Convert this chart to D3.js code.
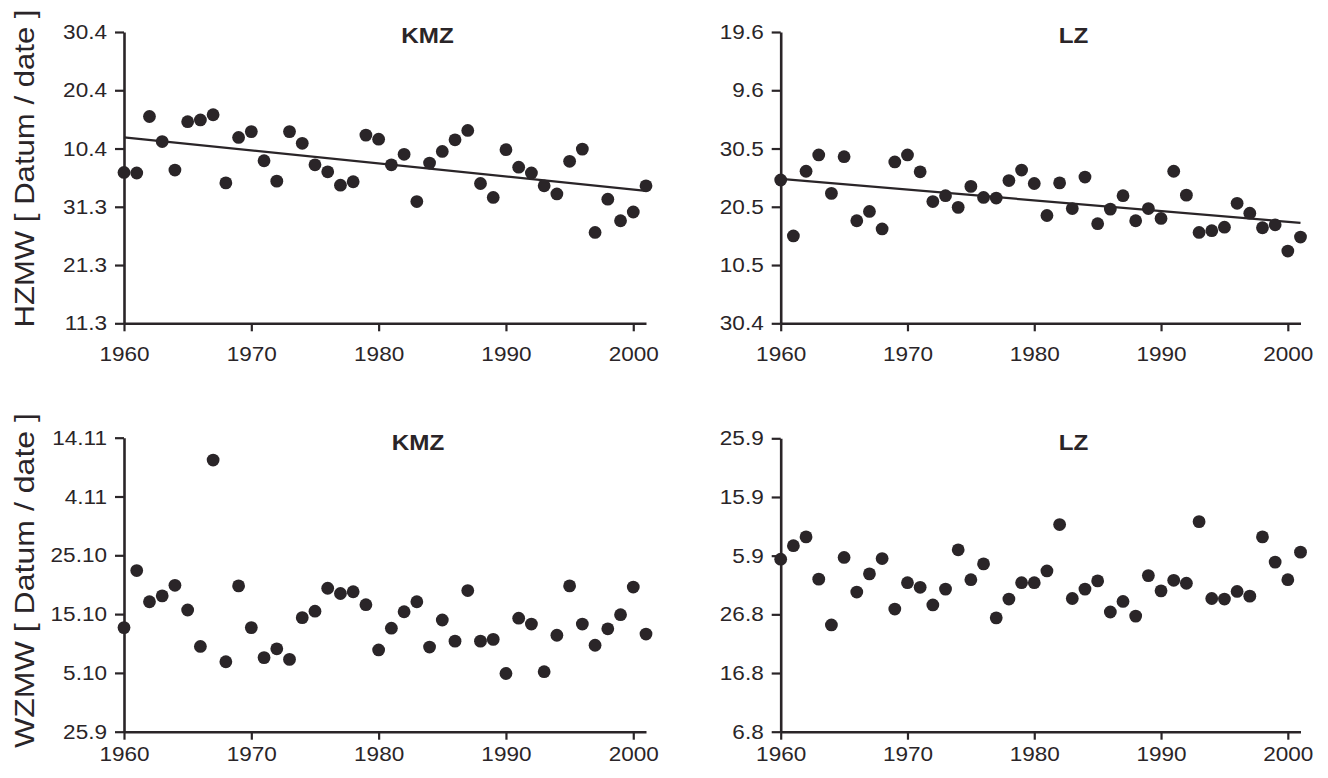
<!DOCTYPE html>
<html>
<head>
<meta charset="utf-8">
<script src="https://cdn.jsdelivr.net/npm/d3@7"></script>
<style>
  html, body { margin: 0; padding: 0; background: #ffffff; }
  svg { display: block; }
</style>
</head>
<body>
<svg id="chart" width="1328" height="778"></svg>
<script>
// ---------------- DATA ----------------
const years = d3.range(1960, 2002);
const xTickYears = [1960, 1970, 1980, 1990, 2000];

// y-axis tick labels (dates, day.month), bottom to top, 10 days apart
const hzmwKmzTicks = ["11.3", "21.3", "31.3", "10.4", "20.4", "30.4"];
const hzmwLzTicks  = ["30.4", "10.5", "20.5", "30.5", "9.6", "19.6"];
const wzmwKmzTicks = ["25.9", "5.10", "15.10", "25.10", "4.11", "14.11"];
const wzmwLzTicks  = ["6.8", "16.8", "26.8", "5.9", "15.9", "25.9"];
const tickDays = [0, 10, 20, 30, 40, 50];

// values: days after the lowest tick date, one per year 1960..2001
const hzmwKmz = [25.9, 25.8, 35.5, 31.2, 26.3, 34.6, 34.9, 35.8, 24.1, 31.9,
                 32.9, 27.9, 24.4, 32.9, 30.9, 27.2, 26.0, 23.7, 24.3, 32.3,
                 31.6, 27.2, 29.0, 20.9, 27.5, 29.5, 31.5, 33.1, 24.0, 21.6,
                 29.8, 26.8, 25.8, 23.6, 22.2, 27.8, 29.9, 15.6, 21.3, 17.6,
                 19.1, 23.6];
const hzmwLz  = [24.6, 15.0, 26.1, 28.9, 22.3, 28.6, 17.6, 19.2, 16.2, 27.7,
                 28.9, 26.0, 20.9, 21.9, 19.9, 23.5, 21.6, 21.5, 24.5, 26.3,
                 24.0, 18.5, 24.1, 19.7, 25.1, 17.1, 19.6, 21.9, 17.6, 19.7,
                 18.0, 26.1, 22.0, 15.6, 15.9, 16.5, 20.6, 18.9, 16.4, 16.9,
                 12.4, 14.8];
const wzmwKmz = [17.7, 27.4, 22.1, 23.1, 24.9, 20.7, 14.5, 46.2, 11.9, 24.8,
                 17.7, 12.6, 14.1, 12.3, 19.4, 20.5, 24.4, 23.5, 23.8, 21.6,
                 13.9, 17.6, 20.4, 22.1, 14.4, 19.0, 15.4, 24.0, 15.4, 15.7,
                  9.9, 19.3, 18.3, 10.2, 16.4, 24.8, 18.3, 14.7, 17.5, 19.9,
                 24.6, 16.6];
const wzmwLz  = [29.4, 31.7, 33.2, 26.0, 18.2, 29.7, 23.8, 26.9, 29.5, 20.9,
                 25.4, 24.6, 21.6, 24.3, 31.0, 25.9, 28.6, 19.4, 22.6, 25.4,
                 25.4, 27.4, 35.3, 22.7, 24.3, 25.7, 20.4, 22.2, 19.7, 26.6,
                 24.0, 25.8, 25.3, 35.8, 22.7, 22.6, 23.9, 23.1, 33.2, 28.9,
                 25.9, 30.6];

const titles = ["KMZ", "LZ", "KMZ", "LZ"];
const rowTitles = ["HZMW [ Datum / date ]", "WZMW  [ Datum / date ]"];

// ---------------- LAYOUT ----------------
const ink = "#2a2528";
const font = "'Liberation Sans', Arial, Helvetica, sans-serif";
const stretch = 1.1;
const svg = d3.select("#chart");

function widen(sel) {
  sel.each(function () {
    const len = this.getComputedTextLength();
    d3.select(this).attr("textLength", len * stretch).attr("lengthAdjust", "spacingAndGlyphs");
  });
}

const panels = [
  { values: hzmwKmz, ticks: hzmwKmzTicks, title: titles[0], trend: true,
    x0: 124, x1: 646, y0: 32, y1: 323.3, labelGap: 15 },
  { values: hzmwLz,  ticks: hzmwLzTicks,  title: titles[1], trend: true,
    x0: 780.7, x1: 1300.5, y0: 32, y1: 323.3, labelGap: 15 },
  { values: wzmwKmz, ticks: wzmwKmzTicks, title: titles[2], trend: false,
    x0: 124, x1: 646, y0: 437.7, y1: 731.7, labelGap: 7 },
  { values: wzmwLz,  ticks: wzmwLzTicks,  title: titles[3], trend: false,
    x0: 780.7, x1: 1300.5, y0: 438.3, y1: 731.7, labelGap: 7 }
];
const titleX = [427.5, 1073.5, 418, 1073.5];
const titleY = [43, 43, 450, 450];

panels.forEach((p, i) => {
  const x = d3.scaleLinear().domain([1960, 2001]).range([p.x0, p.x1]);
  const y = d3.scaleLinear().domain([0, 50]).range([p.y1, p.y0]);
  const g = svg.append("g");

  const ya = g.append("g")
    .attr("transform", `translate(${p.x0},0)`)
    .call(d3.axisLeft(y).tickValues(tickDays)
      .tickFormat((d, k) => p.ticks[k]).tickSize(9).tickPadding(8).tickSizeOuter(0));
  const xa = g.append("g")
    .attr("transform", `translate(0,${p.y1})`)
    .call(d3.axisBottom(x).tickValues(xTickYears)
      .tickFormat(d3.format("d")).tickSize(8).tickPadding(p.labelGap).tickSizeOuter(0));

  [ya, xa].forEach(a => {
    a.attr("font-size", null).attr("font-family", null);
    a.select(".domain").attr("stroke", ink).attr("stroke-width", 2.6);
    a.selectAll(".tick line").attr("stroke", ink).attr("stroke-width", 2.2);
    a.selectAll(".tick text").attr("fill", ink)
      .style("font-family", font)
      .style("font-size", "20.5px")
      .call(widen);
  });

  if (p.trend) {
    const mx = d3.mean(years), my = d3.mean(p.values);
    let sxy = 0, sxx = 0;
    years.forEach((yr, k) => { sxy += (yr - mx) * (p.values[k] - my); sxx += (yr - mx) ** 2; });
    const b = sxy / sxx, a = my - b * mx;
    g.append("path")
      .datum([1960, 2001])
      .attr("d", d3.line().x(d => x(d)).y(d => y(a + b * d)))
      .attr("stroke", ink).attr("stroke-width", 2.2).attr("fill", "none");
  }

  g.selectAll("circle.pt")
    .data(p.values)
    .join("circle")
    .attr("class", "pt")
    .attr("cx", (d, k) => x(years[k]))
    .attr("cy", d => y(d))
    .attr("r", 6.4)
    .attr("fill", ink);

  g.append("text")
    .attr("x", titleX[i]).attr("y", titleY[i])
    .attr("text-anchor", "middle")
    .attr("fill", ink)
    .style("font-family", font)
    .style("font-weight", "bold")
    .style("font-size", "22px")
    .text(p.title)
    .call(widen);
});

const rowCenters = [168.5, 580.5];
const rowLengths = [318, 335];
rowTitles.forEach((t, r) => {
  svg.append("text")
    .attr("transform", `translate(34,${rowCenters[r]}) rotate(-90)`)
    .attr("text-anchor", "middle")
    .attr("fill", ink)
    .attr("textLength", rowLengths[r])
    .attr("lengthAdjust", "spacingAndGlyphs")
    .style("font-family", font)
    .style("font-size", "28px")
    .text(t);
});
</script>
</body>
</html>
